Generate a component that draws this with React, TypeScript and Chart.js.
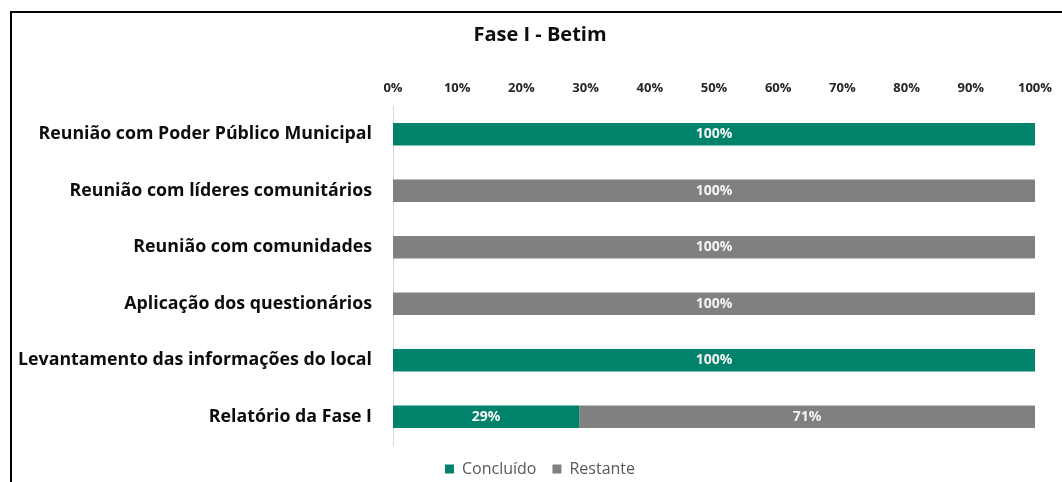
import React, { useEffect, useRef } from "react";
import { Chart, registerables } from "chart.js";

Chart.register(...registerables);

const categories = [
  "Reunião com Poder Público Municipal",
  "Reunião com líderes comunitários",
  "Reunião com comunidades",
  "Aplicação dos questionários",
  "Levantamento das informações do local",
  "Relatório da Fase I",
];
const concluido = [100, 0, 0, 0, 100, 29];
const restante = [0, 100, 100, 100, 0, 71];
const seriesNames = ["Concluído", "Restante"];
const xTicks = [0, 10, 20, 30, 40, 50, 60, 70, 80, 90, 100];
const titleText = "Fase I - Betim";

const FONT = "'Open Sans', 'DejaVu Sans', sans-serif";

const dataLabelPlugin = {
  id: "dataLabels",
  afterDatasetsDraw(chart: any) {
    const ctx = chart.ctx;
    ctx.save();
    ctx.font = `bold 14px ${FONT}`;
    ctx.fillStyle = "#f4f4f4";
    ctx.textAlign = "center";
    ctx.textBaseline = "middle";
    chart.data.datasets.forEach((ds: any, di: number) => {
      const meta = chart.getDatasetMeta(di);
      meta.data.forEach((el: any, i: number) => {
        const v = ds.data[i];
        if (!v) return;
        const c = el.getCenterPoint();
        ctx.fillText(v + "%", c.x, c.y);
      });
    });
    ctx.restore();
  },
};

// shift the centred title and legend a little to the right, as in the reference
const centreShiftPlugin = {
  id: "centreShift",
  afterLayout(chart: any) {
    const shift = 16;
    if (chart.titleBlock) {
      chart.titleBlock.left += shift;
      chart.titleBlock.right += shift;
    }
    if (chart.legend) {
      chart.legend.left += shift;
      chart.legend.right += shift;
    }
  },
};

export default function App() {
  const ref = useRef<HTMLCanvasElement | null>(null);
  useEffect(() => {
    if (!ref.current) return;
    const chart = new Chart(ref.current, {
      type: "bar",
      data: {
        labels: categories,
        datasets: [
          {
            label: seriesNames[0],
            data: concluido,
            backgroundColor: "#00836A",
            barPercentage: 0.4,
            categoryPercentage: 1,
          },
          {
            label: seriesNames[1],
            data: restante,
            backgroundColor: "#808080",
            barPercentage: 0.4,
            categoryPercentage: 1,
          },
        ],
      },
      options: {
        indexAxis: "y",
        animation: false,
        responsive: false,
        maintainAspectRatio: false,
        layout: { padding: { left: 0, right: 26, top: 0, bottom: 0 } },
        scales: {
          x: {
            position: "top",
            stacked: true,
            min: 0,
            max: 100,
            afterBuildTicks: (s: any) => {
              s.ticks = xTicks.map((v) => ({ value: v }));
            },
            afterFit: (s: any) => {
              s.height = 59;
            },
            grid: { display: false, drawTicks: false },
            border: { display: false },
            ticks: {
              padding: 10,
              color: "#262626",
              font: { family: FONT, size: 13, weight: "bold" },
              callback: (v: any) => v + "%",
            },
          },
          y: {
            stacked: true,
            afterFit: (s: any) => {
              s.width = 381;
            },
            grid: { display: false, drawTicks: false },
            border: { display: true, color: "#d9d9d9", width: 1 },
            ticks: {
              padding: 21,
              color: "#0d0d0d",
              font: { family: FONT, size: 17.8, weight: "bold" },
            },
          },
        },
        plugins: {
          title: {
            display: true,
            text: titleText,
            color: "#0d0d0d",
            font: { family: FONT, size: 20, weight: "bold" },
            padding: { top: 10, bottom: 0 },
          },
          legend: {
            position: "bottom",
            labels: {
              boxWidth: 9,
              boxHeight: 9,
              padding: 16,
              color: "#595959",
              font: { family: FONT, size: 16 },
            },
          },
          tooltip: { enabled: false },
        },
      },
      plugins: [dataLabelPlugin, centreShiftPlugin],
    } as any);
    return () => chart.destroy();
  }, []);

  return (
    <div
      style={{
        position: "fixed",
        left: 0,
        top: 0,
        width: 1062,
        height: 482,
        background: "#fff",
        overflow: "hidden",
      }}
    >
      <div
        style={{
          position: "absolute",
          left: 10,
          top: 11,
          width: 1100,
          height: 520,
          borderLeft: "2px solid #000",
          borderTop: "2px solid #000",
        }}
      />
      <canvas
        ref={ref}
        width={1050}
        height={474}
        style={{ position: "absolute", left: 12, top: 13, width: 1050, height: 474 }}
      />
    </div>
  );
}
